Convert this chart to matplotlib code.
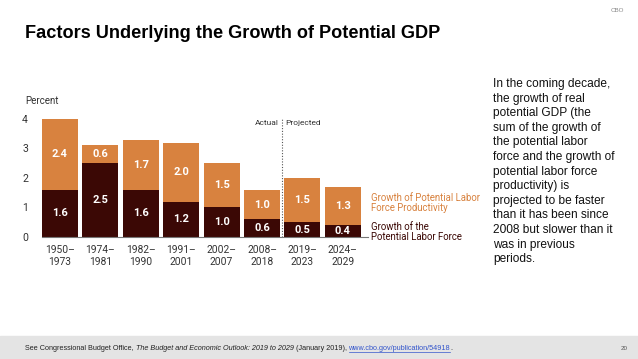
import numpy as np
import matplotlib.pyplot as plt

periods = ['1950–\n1973', '1974–\n1981', '1982–\n1990', '1991–\n2001', '2002–\n2007',
           '2008–\n2018', '2019–\n2023', '2024–\n2029']
labor_force = [1.6, 2.5, 1.6, 1.2, 1.0, 0.6, 0.5, 0.4]
productivity = [2.4, 0.6, 1.7, 2.0, 1.5, 1.0, 1.5, 1.3]

orange = '#d8823f'
dark = '#3b0805'
chart_font = 'Roboto'

W, H = 638, 359
fig = plt.figure(figsize=(W / 100, H / 100), dpi=100)

def px(x, y):
    return x / W, 1 - y / H

# axes placement in pixels
left, right, base, top = 42, 368, 237, 113
ax = fig.add_axes([left / W, (H - base) / H, (right - left) / W, (base - top) / H])

x = np.arange(len(periods))
ax.bar(x, labor_force, width=0.89, color=dark)
ax.bar(x, productivity, width=0.89, bottom=labor_force, color=orange)

for i in range(len(periods)):
    ax.text(x[i], labor_force[i] / 2, f'{labor_force[i]:.1f}', ha='center', va='center',
            color='white', fontsize=8, fontweight='bold', family=chart_font)
    ax.text(x[i], labor_force[i] + productivity[i] / 2, f'{productivity[i]:.1f}', ha='center',
            va='center', color='white', fontsize=8, fontweight='bold', family=chart_font)

ax.set_xlim(-0.44, 7.62)
ax.set_ylim(0, 4.2)
ax.set_yticks([0, 1, 2, 3, 4])
ax.set_xticks(x)
ax.set_xticklabels(periods, fontsize=7.4, color='#333333', family=chart_font, linespacing=1.15)
ax.tick_params(axis='y', length=0, pad=10, labelsize=7.6, labelcolor='#333333')
ax.tick_params(axis='x', length=0, pad=6)
for lab in ax.get_yticklabels():
    lab.set_family(chart_font)
for s in ['top', 'right', 'left']:
    ax.spines[s].set_visible(False)
ax.spines['bottom'].set_color('#777777')
ax.spines['bottom'].set_linewidth(0.8)

# actual / projected divider
ax.plot([5.5, 5.5], [0, 4.0], color='#555555', lw=0.8, ls=(0, (1, 1.5)))
ax.text(5.42, 3.87, 'Actual', ha='right', va='center', fontsize=6, color='#333333', family=chart_font)
ax.text(5.58, 3.87, 'Projected', ha='left', va='center', fontsize=6, color='#333333', family=chart_font)

fig.text(*px(25, 101), 'Percent', ha='left', va='center', fontsize=7, color='#333333', family=chart_font)

# legend labels
fig.text(*px(371, 203), 'Growth of Potential Labor\nForce Productivity', ha='left', va='center',
         fontsize=6.9, color=orange, family=chart_font, linespacing=1.1)
fig.text(*px(371, 232), 'Growth of the\nPotential Labor Force', ha='left', va='center',
         fontsize=6.9, color=dark, family=chart_font, linespacing=1.1)

# title and header
fig.text(*px(25, 33), 'Factors Underlying the Growth of Potential GDP', ha='left', va='center',
         fontsize=13.1, fontweight='bold', family='Liberation Sans')
fig.text(*px(624, 10), 'CBO', ha='right', va='center', fontsize=4.5, color='#888888', family='Liberation Sans')

side_note = ('In the coming decade,\nthe growth of real\npotential GDP (the\nsum of the growth of\n'
             'the potential labor\nforce and the growth of\npotential labor force\nproductivity) is\n'
             'projected to be faster\nthan it has been since\n2008 but slower than it\nwas in previous\nperiods.')
fig.text(*px(493, 78), side_note, ha='left', va='top', fontsize=8.6, family='Liberation Sans',
         linespacing=1.29, color='#111111')

# footer band
fig.patches.append(plt.Rectangle((0, 0), 1, 23 / H, transform=fig.transFigure,
                                 color='#e4e4e4', zorder=0))
fig.text(*px(628, 348), '20', ha='right', va='center', fontsize=4.5, color='#555555', family='Liberation Sans')

pieces = [('See Congressional Budget Office, ', 'normal', '#222222', False),
          ('The Budget and Economic Outlook: 2019 to 2029', 'italic', '#222222', False),
          (' (January 2019), ', 'normal', '#222222', False),
          ('www.cbo.gov/publication/54918', 'normal', '#3355cc', True),
          ('.', 'normal', '#222222', False)]
fig.canvas.draw()
renderer = fig.canvas.get_renderer()
cur = 25
for txt, style, col, ul in pieces:
    t = fig.text(*px(cur, 348), txt, ha='left', va='center', fontsize=5.2, style=style,
                 color=col, family='Liberation Sans')
    bb = t.get_window_extent(renderer)
    if ul:
        fig.add_artist(plt.Line2D([cur / W, (cur + bb.width) / W], [1 - 351.5 / H] * 2,
                                  transform=fig.transFigure, color=col, lw=0.5))
    cur += bb.width

fig.savefig('out.png', dpi=100)
